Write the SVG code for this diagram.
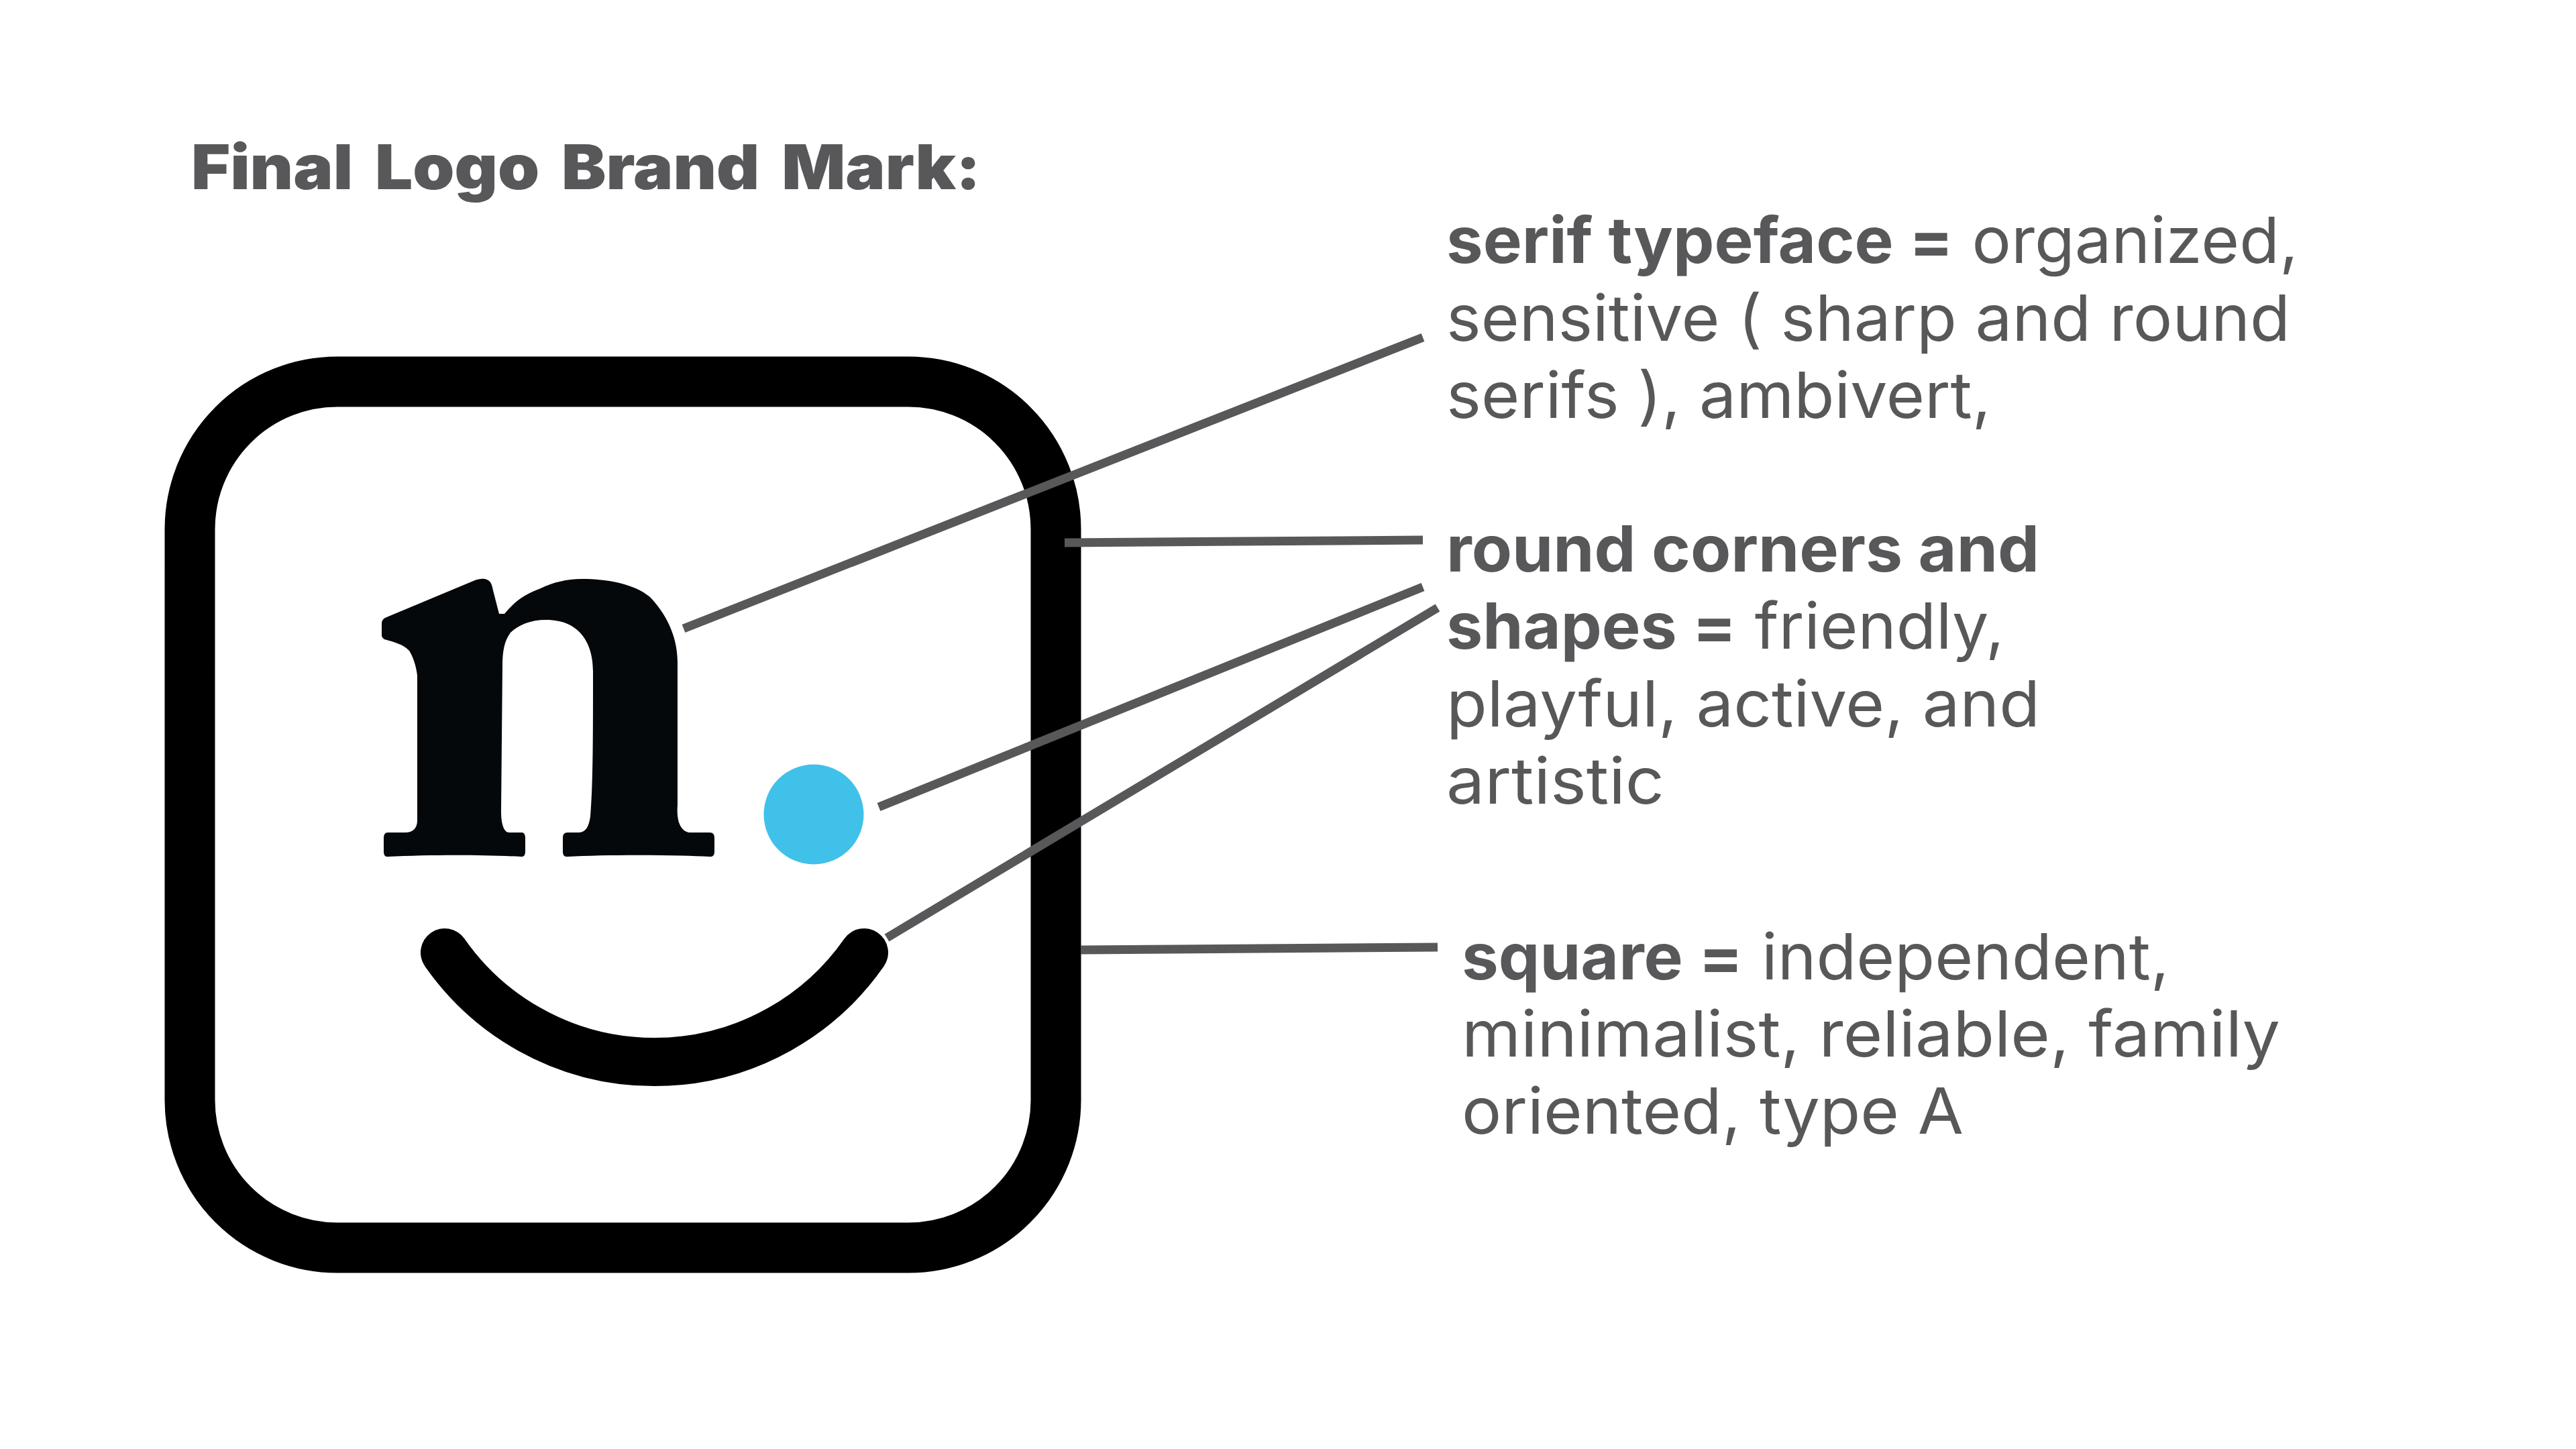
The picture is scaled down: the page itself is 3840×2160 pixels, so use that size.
<svg xmlns="http://www.w3.org/2000/svg" width="3840" height="2160" viewBox="0 0 3840 2160">
<style>
.t{font-family:"Inter","Lato",sans-serif;font-size:95px;fill:#58585a;font-variant-ligatures:none}
.b{font-weight:700}
.h{font-weight:900;font-size:92px;word-spacing:12px}
.c line{stroke:#58585a;stroke-width:13;fill:none}
</style>
<rect width="3840" height="2160" fill="#fff"/>
<g id="title"><text class="t h" x="285" y="282" textLength="1177" lengthAdjust="spacingAndGlyphs">Final Logo Brand Mark:</text></g>
<g id="logo-square"><rect x="283" y="569" width="1291" height="1291" rx="220" ry="220" fill="none" stroke="#000" stroke-width="75"/></g>
<g id="logo-n"><path fill="#05080a" d="M569 930C569 925 571 923 574 921L708 865C716 862 726 861 731 868C733 871 734 875 735 880L744 915H752C770 893 785 885 806 877C825 868 845 863 867 863C905 863 945 870 969 890C990 912 1010 945 1010 987V1200C1008 1225 1015 1241 1030 1241H1058C1063 1241 1065 1244 1065 1249V1269C1065 1275 1063 1277 1058 1277C1000 1274 900 1274 846 1277C841 1277 839 1275 839 1269V1249C839 1244 841 1241 846 1241H863C873 1241 878 1232 880 1217C884 1170 884 1100 884 1000C884 960 865 924 814 924C790 924 773 932 761 943C752 955 749 970 749 993L747 1210C747 1228 751 1241 759 1241H778C781 1241 783 1244 783 1249V1269C783 1275 781 1277 777 1277C720 1274 640 1274 578 1277C574 1277 572 1275 572 1269V1249C572 1244 574 1241 578 1241H604C615 1241 622 1235 622 1223V1007C620 990 615 978 610 970C600 960 590 958 573 953C570 951 569 949 569 947Z"/></g>
<g id="logo-dot"><circle cx="1213" cy="1214" r="74.5" fill="#40c1ea"/></g>
<g id="logo-smile"><path d="M663 1420A381 381 0 0 0 1288 1420" fill="none" stroke="#000" stroke-width="72" stroke-linecap="round"/></g>
<g id="connectors" class="c">
<line x1="2121" y1="503" x2="1019" y2="937"/>
<line x1="1587" y1="809" x2="2121" y2="805"/>
<line x1="2121" y1="875" x2="1310" y2="1203"/>
<line x1="2143" y1="906" x2="1322" y2="1398"/>
<line x1="1611" y1="1416" x2="2143" y2="1412"/>
</g>
<g id="label-serif">
<text class="t" x="2156" y="392" textLength="1270" lengthAdjust="spacingAndGlyphs"><tspan class="b">serif typeface =</tspan> organized,</text>
<text class="t" x="2156" y="508" textLength="1258" lengthAdjust="spacingAndGlyphs">sensitive ( sharp and round</text>
<text class="t" x="2156" y="623" textLength="812" lengthAdjust="spacingAndGlyphs">serifs ), ambivert,</text>
</g>
<g id="label-round">
<text class="t b" x="2156" y="852" textLength="884" lengthAdjust="spacingAndGlyphs">round corners and</text>
<text class="t" x="2156" y="967" textLength="832" lengthAdjust="spacingAndGlyphs"><tspan class="b">shapes =</tspan> friendly,</text>
<text class="t" x="2156" y="1083" textLength="885" lengthAdjust="spacingAndGlyphs">playful, active, and</text>
<text class="t" x="2156" y="1198" textLength="325" lengthAdjust="spacingAndGlyphs">artistic</text>
</g>
<g id="label-square">
<text class="t" x="2179" y="1460" textLength="1055" lengthAdjust="spacingAndGlyphs"><tspan class="b">square =</tspan> independent,</text>
<text class="t" x="2179" y="1575" textLength="1220" lengthAdjust="spacingAndGlyphs">minimalist, reliable, family</text>
<text class="t" x="2179" y="1690" textLength="748" lengthAdjust="spacingAndGlyphs">oriented, type A</text>
</g>
</svg>
